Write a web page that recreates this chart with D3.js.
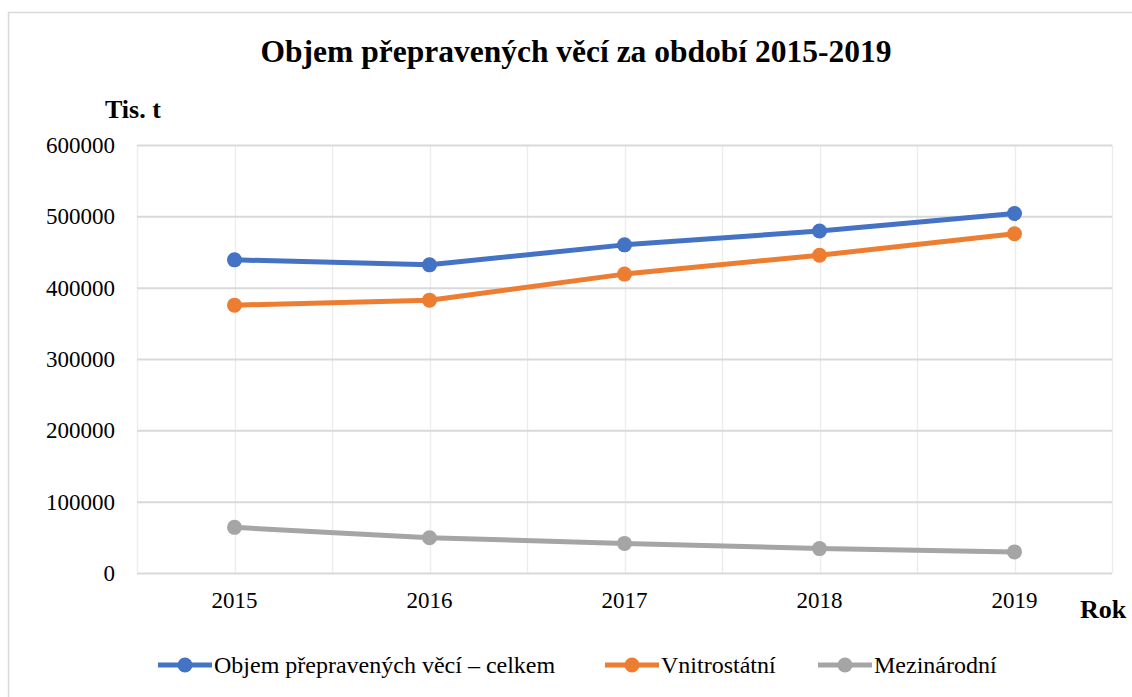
<!DOCTYPE html>
<html>
<head>
<meta charset="utf-8">
<script src="https://cdn.jsdelivr.net/npm/d3@7"></script>
<style>
  body { margin: 0; background: #fff; }
  svg text { font-family: "Liberation Serif", "Times New Roman", serif; fill: #000; }
</style>
</head>
<body>
<svg id="chart" width="1132" height="697"></svg>
<script>
// data (thousands of tonnes)
var years = ["2015", "2016", "2017", "2018", "2019"];
var celkem = [439000, 432000, 460000, 479500, 504000];
var vnitrostatni = [375500, 382500, 419000, 445500, 475500];
var mezinarodni = [64000, 49500, 41500, 34200, 29600];
var yTicks = [0, 100000, 200000, 300000, 400000, 500000, 600000];

var seriesNames = ["Objem přepravených věcí – celkem", "Vnitrostátní", "Mezinárodní"];
var colors = ["#4472c4", "#ed7d31", "#a5a5a5"];
var series = [celkem, vnitrostatni, mezinarodni];

var FONT = "Liberation Serif";
var svg = d3.select("#chart");
var margin = {left: 137, right: 20, top: 145, bottom: 124};
var W = 1132, H = 697;

// chart border
svg.append("rect")
    .attr("x", 8.5).attr("y", 12.5)
    .attr("width", 1140).attr("height", 700)
    .attr("fill", "none").attr("stroke", "#d9d9d9").attr("stroke-width", 1.5);

var x = d3.scaleBand().domain(years).range([margin.left, W - margin.right]);
var y = d3.scaleLinear().domain([0, 600000]).range([H - margin.bottom, margin.top]);

//vertical gridlines at category centres and boundaries
var vlines = [];
years.forEach(function(d) {
    vlines.push(x(d));
    vlines.push(x(d) + x.bandwidth() / 2);
});
vlines.push(x.range()[1]);
svg.append("g").selectAll("line").data(vlines).enter().append("line")
    .attr("x1", function(d) { return Math.round(d) + 0.5; })
    .attr("x2", function(d) { return Math.round(d) + 0.5; })
    .attr("y1", y(600000)).attr("y2", y(0))
    .attr("stroke", "#ececec").attr("stroke-width", 1.3);

//horizontal gridlines
var yAxis = d3.axisLeft(y).tickValues(yTicks).tickSize(-(W - margin.left - margin.right)).tickFormat(d3.format("d")).tickPadding(22);
var gy = svg.append("g").attr("transform", "translate(" + margin.left + ",0)").call(yAxis);
gy.attr("font-family", FONT);
gy.select(".domain").remove();
gy.selectAll(".tick line").attr("stroke", "#d9d9d9").attr("stroke-width", 2);
gy.selectAll(".tick text").attr("font-size", 23).attr("dy", "0.32em");

//x labels
var xAxis = d3.axisBottom(x).tickSize(0).tickPadding(19);
var gx = svg.append("g").attr("transform", "translate(0," + y(0) + ")").call(xAxis);
gx.attr("font-family", FONT);
gx.select(".domain").remove();
gx.selectAll(".tick text").attr("font-size", 23);

var line = d3.line()
    .x(function(d, i) { return x(years[i]) + x.bandwidth() / 2; })
    .y(function(d) { return y(d); });

series.forEach(function(s, k) {
    svg.append("path").datum(s)
        .attr("d", line)
        .attr("fill", "none")
        .attr("stroke", colors[k])
        .attr("stroke-width", 5)
        .attr("stroke-linejoin", "round");
    svg.append("g").selectAll("circle").data(s).enter().append("circle")
        .attr("cx", function(d, i) { return x(years[i]) + x.bandwidth() / 2; })
        .attr("cy", function(d) { return y(d); })
        .attr("r", 7.5)
        .attr("fill", colors[k]);
});

//titles
svg.append("text").attr("x", 576).attr("y", 62).attr("text-anchor", "middle")
    .attr("font-family", FONT).attr("font-size", 31.5).attr("font-weight", "bold")
    .text("Objem přepravených věcí za období 2015-2019");
svg.append("text").attr("x", 105).attr("y", 118)
    .attr("font-family", FONT).attr("font-size", 26).attr("font-weight", "bold").text("Tis. t");
svg.append("text").attr("x", 1080).attr("y", 618)
    .attr("font-family", FONT).attr("font-size", 26).attr("font-weight", "bold").text("Rok");

//legend
var legendX = [158, 605, 818];
var leg = svg.append("g").selectAll("g").data(seriesNames).enter().append("g")
    .attr("transform", function(d, i) { return "translate(" + legendX[i] + ",665)"; });
leg.append("line").attr("x1", 0).attr("x2", 54).attr("y1", 0).attr("y2", 0)
    .attr("stroke", function(d, i) { return colors[i]; }).attr("stroke-width", 5);
leg.append("circle").attr("cx", 27).attr("cy", 0).attr("r", 7.5)
    .attr("fill", function(d, i) { return colors[i]; });
leg.append("text").attr("x", 56).attr("y", 0).attr("dy", "0.35em")
    .attr("font-family", FONT).attr("font-size", 24).text(function(d) { return d; });
</script>
</body>
</html>
